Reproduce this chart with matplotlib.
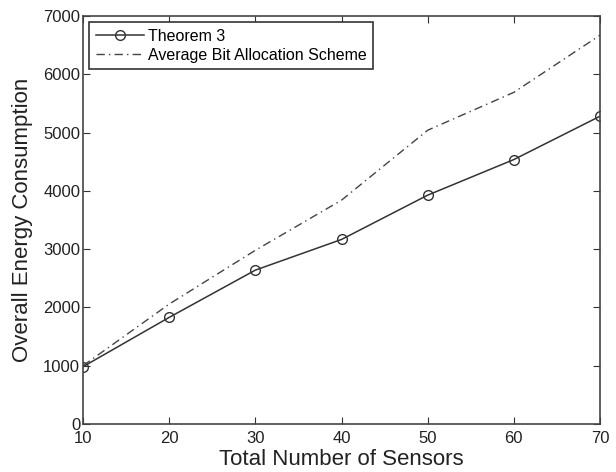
import matplotlib
matplotlib.use('Agg')
import matplotlib.pyplot as plt

plt.rcParams['font.family'] = ['Liberation Sans', 'DejaVu Sans']

# data
sensors = [10, 20, 30, 40, 50, 60, 70]
theorem3 = [983, 1829, 2640, 3166, 3926, 4537, 5280]
average_bit = [1000, 2057, 2980, 3840, 5040, 5690, 6670]

fig = plt.figure(figsize=(6.16, 4.72), dpi=100)
ax = fig.add_axes([83/616, 48/472, 517/616, 408/472])

ax.plot(sensors, theorem3, '-', color='#333333', lw=1.1, marker='o',
        markersize=7, markerfacecolor='none', markeredgecolor='#333333',
        label='Theorem 3')
ax.plot(sensors, average_bit, color='#444444', lw=1.0,
        linestyle=(0, (6, 3, 1, 3)), label='Average Bit Allocation Scheme')

ax.set_xlim(10, 70)
ax.set_ylim(0, 7000)
ax.set_xticks(sensors)
ax.set_yticks(range(0, 7001, 1000))
ax.tick_params(direction='in', top=True, right=True, labelsize=12,
               length=5, colors='#333333', labelcolor='#222222')
ax.tick_params(axis='x', pad=5)
ax.tick_params(axis='y', pad=2)
for s in ax.spines.values():
    s.set_linewidth(1.2)
    s.set_color('#444444')

ax.set_xlabel('Total Number of Sensors', fontsize=16, labelpad=2,
              color='#222222')
ax.set_ylabel('Overall Energy Consumption', fontsize=16, labelpad=7,
              color='#222222')

leg = ax.legend(loc='upper left', fontsize=11.5, frameon=True, fancybox=False,
                borderaxespad=0.4, handlelength=3.0, borderpad=0.4,
                labelspacing=0.25, handletextpad=0.25)
leg.get_frame().set_edgecolor('#333333')
leg.get_frame().set_linewidth(1.2)
leg.get_frame().set_alpha(1)

fig.savefig('out.png', dpi=100)
